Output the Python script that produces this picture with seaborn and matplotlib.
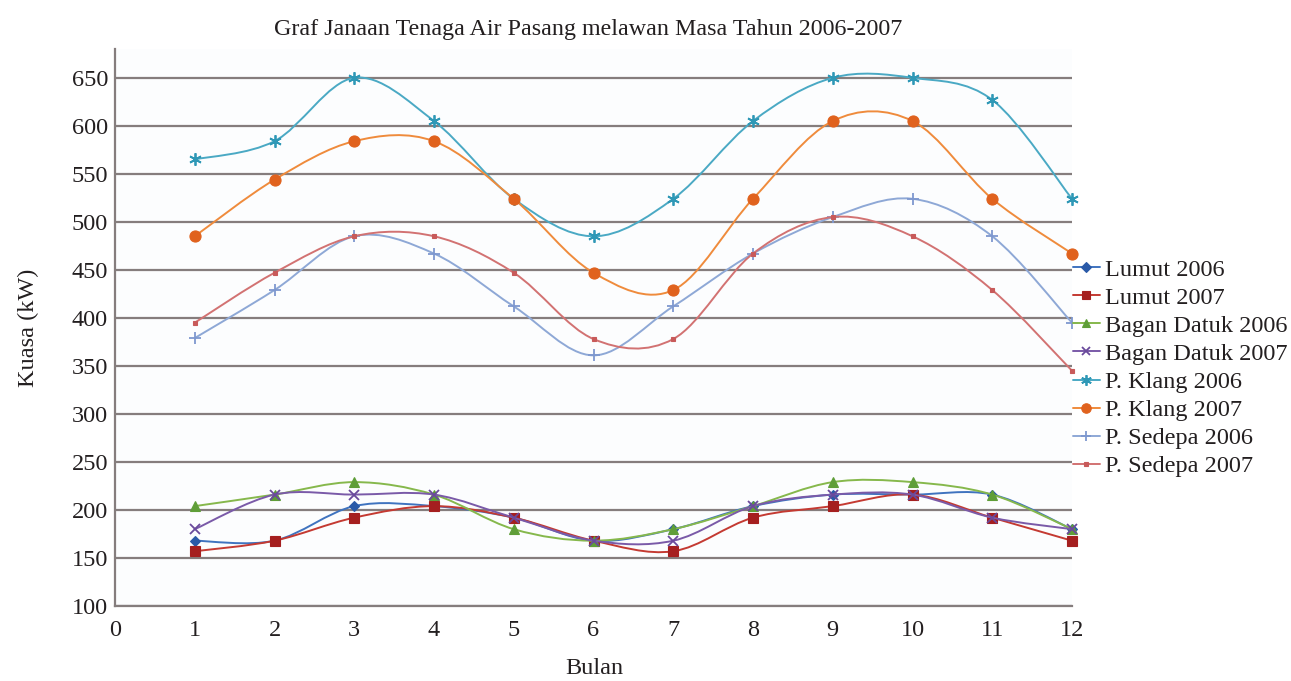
import numpy as np
import pandas as pd
import matplotlib
matplotlib.use("Agg")
import matplotlib.pyplot as plt
from matplotlib.path import Path
from matplotlib.patches import PathPatch
from matplotlib.lines import Line2D
import seaborn as sns

# Monthly tidal power output (kW)
months = list(range(1, 13))
lumut_2006 = [168, 168, 204, 204, 192, 168, 180, 204, 216, 216, 216, 180]
lumut_2007 = [157, 168, 192, 204, 192, 168, 157, 192, 204, 216, 192, 168]
bagan_datuk_2006 = [204, 216, 229, 216, 180, 168, 180, 204, 229, 229, 216, 180]
bagan_datuk_2007 = [180, 216, 216, 216, 192, 168, 168, 204, 216, 216, 192, 180]
p_klang_2006 = [565, 584, 650, 605, 524, 485, 524, 605, 650, 650, 627, 524]
p_klang_2007 = [485, 544, 584, 584, 524, 447, 429, 524, 605, 605, 524, 467]
p_sedepa_2006 = [379, 429, 485, 467, 412, 361, 412, 467, 505, 524, 485, 395]
p_sedepa_2007 = [395, 447, 485, 485, 447, 378, 378, 467, 505, 485, 429, 345]

labels = ["Lumut 2006", "Lumut 2007", "Bagan Datuk 2006", "Bagan Datuk 2007",
          "P. Klang 2006", "P. Klang 2007", "P. Sedepa 2006", "P. Sedepa 2007"]
values = [lumut_2006, lumut_2007, bagan_datuk_2006, bagan_datuk_2007,
          p_klang_2006, p_klang_2007, p_sedepa_2006, p_sedepa_2007]

# (line colour, marker colour, marker, marker size, marker edge width)
styles = [
    ("#3f73bf", "#2a5aa8", "D", 5.5, 0.8),
    ("#c43a32", "#a51f1f", "s", 7.5, 0.8),
    ("#86b84c", "#5f9e38", "^", 7.5, 0.8),
    ("#7a5aa8", "#6a4a9c", "x", 7.5, 1.3),
    ("#4aa9c4", "#2f98b6", (6, 2, 0), 9.0, 1.3),
    ("#ef8b3c", "#e0621e", "o", 8.0, 0.8),
    ("#8ea8d6", "#7e98cf", "+", 9.0, 1.3),
    ("#d27272", "#c85a5a", "s", 3.5, 0.8),
]

df = pd.DataFrame({"Bulan": months})
for lab, vals in zip(labels, values):
    df[lab] = vals


def smooth_path(xs, ys):
    """Cubic Bezier path through every point (Catmull-Rom style smoothing)."""
    pts = np.column_stack([xs, ys]).astype(float)
    n = len(pts)
    verts = [pts[0]]
    codes = [Path.MOVETO]
    for i in range(n - 1):
        p0 = pts[i - 1] if i > 0 else pts[i]
        p1, p2 = pts[i], pts[i + 1]
        p3 = pts[i + 2] if i + 2 < n else pts[i + 1]
        verts += [p1 + (p2 - p0) / 6.0, p2 - (p3 - p1) / 6.0, p2]
        codes += [Path.CURVE4] * 3
    return Path(verts, codes)


sns.set_theme(style="white")
plt.rcParams["font.family"] = ["Liberation Serif", "DejaVu Serif"]
plt.rcParams["text.color"] = "#231f20"

fig = plt.figure(figsize=(12.91, 6.81), dpi=100)
ax = fig.add_axes([115 / 1291, 1 - 606 / 681, (1072 - 115) / 1291, (606 - 49) / 681])
ax.set_facecolor("#fcfdfe")

handles = []
for k, (lab, (lc, mc, mk, ms, mew)) in enumerate(zip(labels, styles)):
    z = 3 + k * 0.1
    ax.add_patch(PathPatch(smooth_path(df["Bulan"], df[lab]), facecolor="none",
                           edgecolor=lc, lw=1.4, zorder=z, clip_on=False))
    filled = mk not in ("x", "+", (6, 2, 0))
    sns.lineplot(data=df, x="Bulan", y=lab, ax=ax, estimator=None, linestyle="",
                 marker=mk, markersize=ms, color=mc,
                 markeredgecolor=mc, markeredgewidth=mew,
                 markerfacecolor=mc if filled else "none",
                 clip_on=False, zorder=z + 0.05, legend=False)
    handles.append(Line2D([], [], color=lc, lw=1.4, marker=mk, markersize=ms * 0.85,
                          markeredgecolor=mc, markeredgewidth=mew,
                          markerfacecolor=mc if filled else "none", label=lab))

ax.set_xlim(0, 12)
ax.set_ylim(100, 680)
ax.set_xticks(range(0, 13))
ax.set_yticks(range(100, 651, 50))
ax.yaxis.grid(True, color="#857d7d", lw=1.6, zorder=1)
ax.xaxis.grid(False)
for side in ("top", "right"):
    ax.spines[side].set_visible(False)
for side in ("left", "bottom"):
    ax.spines[side].set_color("#857d7d")
    ax.spines[side].set_linewidth(1.6)
ax.tick_params(axis="both", length=0, labelsize=17.5, labelcolor="#231f20")
ax.tick_params(axis="y", pad=5)
ax.tick_params(axis="x", pad=10)
ax.set_xlabel("")
ax.set_ylabel("")

fig.text(588 / 1291, 1 - 29 / 681, "Graf Janaan Tenaga Air Pasang melawan Masa Tahun 2006-2007",
         ha="center", va="center", fontsize=17.3)
fig.text(28 / 1291, 1 - 328 / 681, "Kuasa (kW)", rotation=90, ha="center", va="center",
         fontsize=17.5)
fig.text(594 / 1291, 1 - 668 / 681, "Bulan", ha="center", va="center", fontsize=17.5)

fig.legend(handles=handles, loc="center left", bbox_to_anchor=(1073 / 1291, 1 - 368 / 681),
           frameon=False, fontsize=17.5, handlelength=1.1, handletextpad=0.2,
           labelspacing=0.25, borderpad=0, borderaxespad=0)

fig.savefig("out.png", dpi=100)
